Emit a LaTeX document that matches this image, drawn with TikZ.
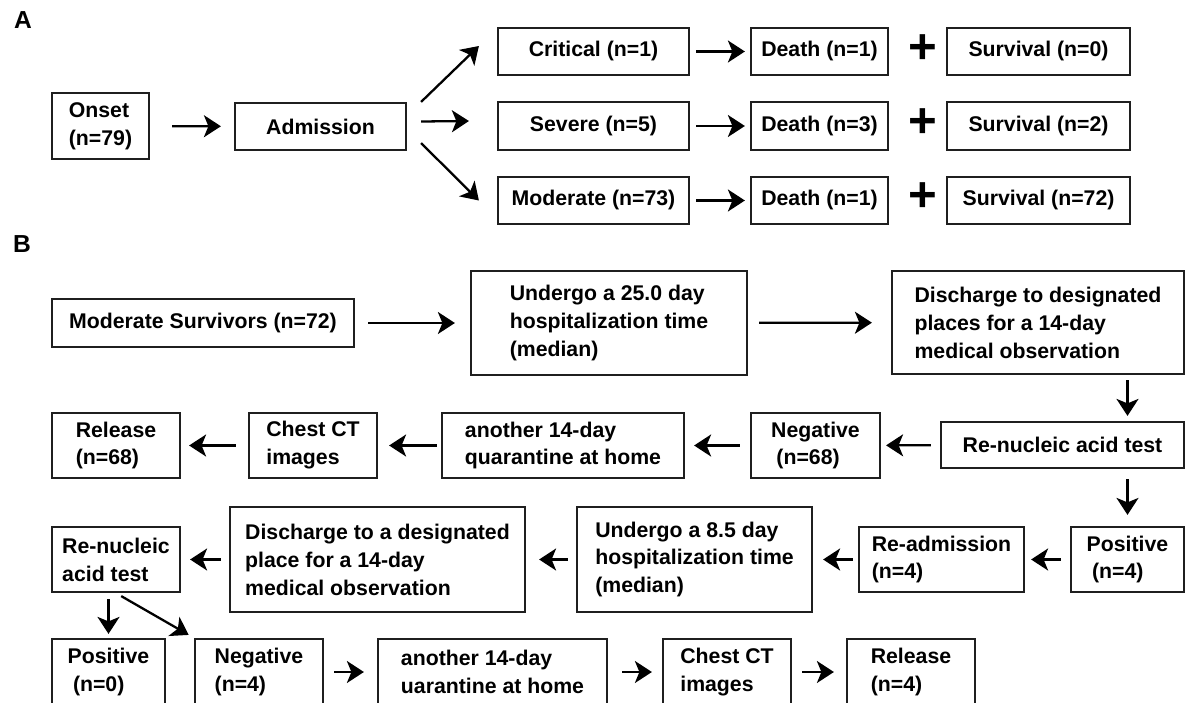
\documentclass[tikz,border=0pt]{standalone}
\usepackage{fontspec}
\setmainfont{Liberation Sans}
\usetikzlibrary{arrows.meta}

\begin{document}
\begin{tikzpicture}[x=0.02cm,y=-0.02cm,
  every node/.style={font=\fontsize{12.1}{15.9}\selectfont\bfseries},
  box/.style={draw=black!88, line width=1.25pt, inner sep=2pt, align=left},
  sz/.style 2 args={minimum width=#1*0.02cm, minimum height=#2*0.02cm},
  arr/.style={-{Stealth[length=0.34cm,width=0.44cm,inset=0.09cm]}, line width=1.3pt},
  lab/.style={font=\fontsize{14}{14}\selectfont\bfseries},
  plus/.style={font=\fontsize{28}{28}\selectfont\bfseries}]
\useasboundingbox (0,0) rectangle (1191,703);
\clip (0,0) rectangle (1191,703);

\node[lab] (labA) at (23,20) {A};
\node[box,sz={97}{66}] (onset) at (100.5,126) {Onset\\(n=79)};
\node[box,sz={171}{47}] (adm) at (320.5,126.5) {Admission};
\node[box,sz={191}{47}] (crit) at (593.5,51.5) {Critical (n=1)};
\node[box,sz={191}{48}] (sev) at (593.5,126) {Severe (n=5)};
\node[box,sz={191}{47}] (mod) at (593.5,200.5) {Moderate (n=73)};
\node[box,sz={137}{47}] (death1) at (819.5,51.5) {Death (n=1)};
\node[box,sz={137}{48}] (death3) at (819.5,126) {Death (n=3)};
\node[box,sz={137}{47}] (death1b) at (819.5,200.5) {Death (n=1)};
\node[plus] (plus1) at (923,49) {+};
\node[plus] (plus2) at (923,123) {+};
\node[plus] (plus3) at (923,197) {+};
\node[box,sz={183}{47}] (surv0) at (1038.5,51.5) {Survival (n=0)};
\node[box,sz={183}{48}] (surv2) at (1038.5,126) {Survival (n=2)};
\node[box,sz={183}{47}] (surv72) at (1038.5,200.5) {Survival (n=72)};

\draw[arr,shorten <=0.44cm,shorten >=0.26cm] (onset) -- (adm);
\draw[arr] ([xshift=0.28cm]adm.north east) -- ([xshift=-0.36cm,yshift=0.11cm]crit.west);
\draw[arr] ([xshift=0.28cm,yshift=0.1cm]adm.east) -- ([xshift=-0.56cm,yshift=0.1cm]sev.west);
\draw[arr] ([xshift=0.28cm,yshift=0.16cm]adm.south east) -- ([xshift=-0.36cm]mod.west);
\draw[arr,shorten <=0.12cm,shorten >=0.1cm] (crit) -- (death1);
\draw[arr,shorten <=0.12cm,shorten >=0.1cm] (sev) -- (death3);
\draw[arr,shorten <=0.12cm,shorten >=0.1cm] (mod) -- (death1b);

\node[lab] (labB) at (22,244) {B};
\node[box,sz={302}{48}] (msurv) at (203,323) {Moderate Survivors (n=72)};
\node[box,sz={276}{104}] (hosp1) at (609,323) {Undergo a 25.0 day\\hospitalization time\\(median)};
\node[box,sz={292}{103}] (disc1) at (1038,322.5) {Discharge to designated\\places for a 14-day\\medical observation};
\node[box,sz={243}{46}] (test1) at (1062.5,445) {Re-nucleic acid test};
\node[box,sz={129}{65}] (neg68) at (815.5,445.5) {Negative\\\hspace*{3pt}(n=68)};
\node[box,sz={242}{65}] (home1) at (563,445.5) {another 14-day\\quarantine at home};
\node[box,sz={128}{65}] (ct1) at (313,445.5) {Chest CT\\images};
\node[box,sz={128}{65}] (rel68) at (116,445.5) {Release\\(n=68)};
\node[box,sz={113}{65}] (pos4) at (1127.5,559.5) {Positive\\\hspace*{3pt}(n=4)};
\node[box,sz={165}{65}] (readm) at (941.5,559.5) {Re-admission\\(n=4)};
\node[box,sz={235}{105}] (hosp2) at (694.5,559.5) {Undergo a 8.5 day\\hospitalization time\\(median)};
\node[box,sz={295}{105}] (disc2) at (377.5,559.5) {Discharge to a designated\\place for a 14-day\\medical observation};
\node[box,sz={128}{65}] (test2) at (116,559.5) {Re-nucleic\\acid test};
\node[box,sz={113}{66}] (pos0) at (108.5,672) {Positive\\\hspace*{3pt}(n=0)};
\node[box,sz={128}{66}] (neg4) at (259,672) {Negative\\(n=4)};
\node[box,sz={229}{66}] (home2) at (492.5,672) {another 14-day\\uarantine at home};
\node[box,sz={128}{66}] (ct2) at (727,672) {Chest CT\\images};
\node[box,sz={128}{66}] (rel4) at (911,672) {Release\\(n=4)};

\draw[arr,shorten <=0.26cm,shorten >=0.3cm] (msurv) -- (hosp1);
\draw[arr,shorten <=0.22cm,shorten >=0.38cm] (hosp1) -- (disc1);
\draw[arr,shorten <=0.1cm,shorten >=0.1cm] (disc1.south -| pos4) -- (test1.north -| pos4);
\draw[arr,shorten <=0.18cm,shorten >=0.1cm] (test1) -- (neg68);
\draw[arr,shorten <=0.2cm,shorten >=0.18cm] (neg68) -- (home1);
\draw[arr,shorten <=0.08cm,shorten >=0.22cm] (home1) -- (ct1);
\draw[arr,shorten <=0.24cm,shorten >=0.16cm] (ct1) -- (rel68);
\draw[arr,shorten <=0.2cm,shorten >=0.22cm] (test1.south -| pos4) -- (pos4);
\draw[arr,shorten <=0.18cm,shorten >=0.12cm] (pos4) -- (readm);
\draw[arr,shorten <=0.1cm,shorten >=0.2cm] (readm) -- (hosp2);
\draw[arr,shorten <=0.16cm,shorten >=0.26cm] (hosp2) -- (disc2);
\draw[arr,shorten <=0.16cm,shorten >=0.18cm] (disc2) -- (test2);
\draw[arr,shorten <=0.12cm,shorten >=0.08cm] (test2.south -| pos0) -- (pos0);
\draw[arr,shorten <=0.12cm,shorten >=0.12cm] (test2.south) -- (neg4.north west);
\draw[arr,shorten <=0.2cm,shorten >=0.26cm] (neg4) -- (home2);
\draw[arr,shorten <=0.28cm,shorten >=0.2cm] (home2) -- (ct2);
\draw[arr,shorten <=0.2cm,shorten >=0.24cm] (ct2) -- (rel4);
\end{tikzpicture}
\end{document}
